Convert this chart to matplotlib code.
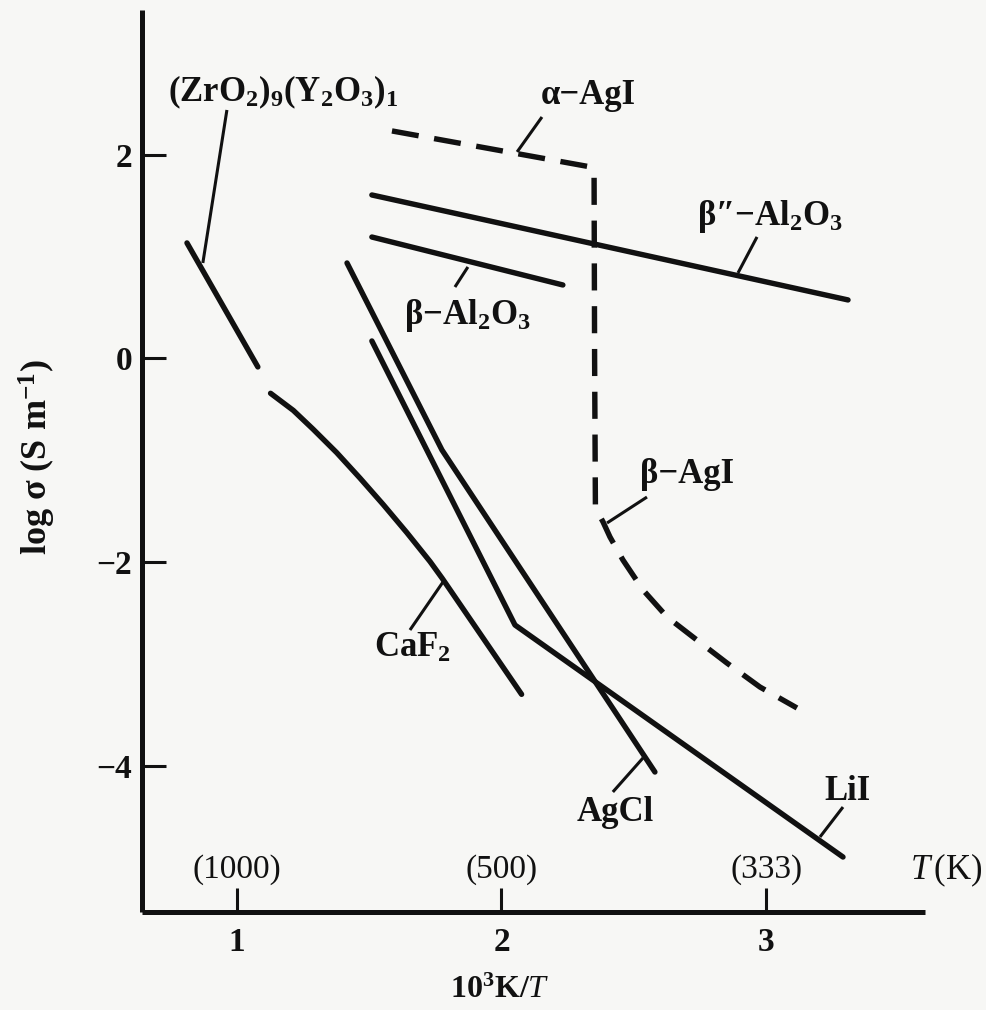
import matplotlib
matplotlib.use("Agg")
import matplotlib.pyplot as plt
import numpy as np

# ---------------- data ----------------
zro2_x = [0.811, 1.079]
zro2_y = [1.135, -0.083]

caf2_x = [1.127, 1.213, 1.288, 1.377, 1.465, 1.553, 1.642, 1.730, 1.776, 2.076]
caf2_y = [-0.342, -0.510, -0.695, -0.925, -1.175, -1.435, -1.710, -1.995, -2.160, -3.299]

agcl_x = [1.416, 1.775, 2.580]
agcl_y = [0.938, -0.899, -4.062]

lii_x = [1.510, 2.051, 3.291]
lii_y = [0.172, -2.618, -4.897]

b2_al2o3_x = [1.510, 3.310]      # beta''-Al2O3
b2_al2o3_y = [1.606, 0.575]

b_al2o3_x = [1.510, 2.232]       # beta-Al2O3
b_al2o3_y = [1.193, 0.722]

a_agi_x = [1.586, 2.340, 2.350, 2.352, 2.355]   # alpha-AgI (incl. transition)
a_agi_y = [2.235, 1.880, 1.820, 0.000, -1.440]

b_agi_x = [2.355, 2.368, 2.384, 2.410, 2.459, 2.535, 2.626, 2.724, 2.852, 2.977, 3.117]
b_agi_y = [-1.440, -1.530, -1.606, -1.753, -1.979, -2.274, -2.539, -2.736, -2.991, -3.227, -3.433]

x_ticks = [1, 2, 3]
y_ticks = [-4, -2, 0, 2]
y_ticklabels = ["\u22124", "\u22122", "0", "2"]
temps_K = [1000, 500, 333]

# labels: text, label position, leader start, leader end (data coords)
labels = [
    ("(ZrO$_2$)$_9$(Y$_2$O$_3$)$_1$", (1.174, 2.618), (0.962, 2.441), (0.871, 0.938)),
    ("\u03b1\u2212AgI", (2.327, 2.588), (2.153, 2.372), (2.059, 2.029)),
    ("\u03b2\u2033\u2212Al$_2$O$_3$", (3.015, 1.390), (2.966, 1.194), (2.894, 0.840)),
    ("\u03b2\u2212Al$_2$O$_3$", (1.870, 0.427), (1.824, 0.702), (1.873, 0.899)),
    ("CaF$_2$", (1.662, -2.844), (1.654, -2.667), (1.779, -2.195)),
    ("AgCl", (2.429, -4.455), (2.421, -4.258), (2.535, -3.924)),
    ("LiI", (3.306, -4.258), (3.291, -4.406), (3.204, -4.700)),
    ("\u03b2\u2212AgI", (2.701, -1.144), (2.550, -1.361), (2.399, -1.616)),
]

# ---------------- style ----------------
plt.rcParams['font.family'] = ['Liberation Serif', 'DejaVu Serif']
plt.rcParams['mathtext.fontset'] = 'custom'
plt.rcParams['mathtext.rm'] = 'Liberation Serif'
plt.rcParams['mathtext.bf'] = 'Liberation Serif:bold'
plt.rcParams['mathtext.it'] = 'Liberation Serif:italic'
plt.rcParams['mathtext.default'] = 'bf'
plt.rcParams['axes.unicode_minus'] = True

INK = '#111111'
BG = '#f7f7f5'
LW = 3.9
FS = 25

W, H = 986, 1010
fig = plt.figure(figsize=(W / 100, H / 100), dpi=100, facecolor=BG)
left, right, bottom, top = 142, 925, 912, 10
ax = fig.add_axes([left / W, 1 - bottom / H, (right - left) / W, (bottom - top) / H])
ax.set_facecolor(BG)
ax.set_xlim(0.641, 3.601)
ax.set_ylim(-5.437, 3.423)

for s in ['top', 'right']:
    ax.spines[s].set_visible(False)
for s in ['left', 'bottom']:
    ax.spines[s].set_linewidth(3.6)
    ax.spines[s].set_color(INK)
    ax.spines[s].set_capstyle('butt')

ax.set_xticks(x_ticks)
ax.set_xticklabels([str(t) for t in x_ticks], fontsize=24, fontweight='bold')
ax.set_yticks(y_ticks)
ax.set_yticklabels(y_ticklabels, fontsize=24, fontweight='bold')
ax.tick_params(axis='x', direction='in', length=17, width=2.2, color=INK, pad=11, labelcolor=INK)
ax.tick_params(axis='y', direction='in', length=17, width=2.2, color=INK, pad=7, labelcolor=INK)

# solid curves
for xs, ys in [(zro2_x, zro2_y), (caf2_x, caf2_y), (agcl_x, agcl_y), (lii_x, lii_y),
               (b2_al2o3_x, b2_al2o3_y), (b_al2o3_x, b_al2o3_y)]:
    ax.plot(xs, ys, color=INK, lw=LW, solid_capstyle='round', solid_joinstyle='round')

# AgI dashed curve (alpha + beta, drawn continuously)
agi_x = a_agi_x + b_agi_x[1:]
agi_y = a_agi_y + b_agi_y[1:]
ax.plot(agi_x, agi_y, color=INK, lw=LW, linestyle=(0, (5.0, 2.9)),
        dash_capstyle='butt', dash_joinstyle='round')

# labels with leader lines
for txt, (tx, ty), (lx0, ly0), (lx1, ly1) in labels:
    ax.text(tx, ty, txt, fontsize=FS, fontweight='bold', ha='center', va='center', color=INK)
    ax.plot([lx0, lx1], [ly0, ly1], color=INK, lw=2.2, solid_capstyle='butt')

# temperature labels
for T in temps_K:
    ax.text(1000.0 / T, -5.025, f"({T})", fontsize=24, ha='center', va='center',
            color=INK, clip_on=False)
ax.text(3.68, -5.025, r"$\mathit{T}\,\mathrm{(K)}$", fontsize=25, ha='center', va='center',
        color=INK, clip_on=False)

ax.set_xlabel(r"$\mathbf{10^3K/}\mathbf{\mathit{T}}$", fontsize=23, color=INK, va='center')
ax.xaxis.set_label_coords(0.457, -0.0865)
ax.set_ylabel("log \u03c3 (S m$^{-1}$)", fontsize=26, fontweight='bold', color=INK, va='center')
ax.yaxis.set_label_coords(-0.134, 0.504)

fig.savefig("out.png", dpi=100, facecolor=BG)
